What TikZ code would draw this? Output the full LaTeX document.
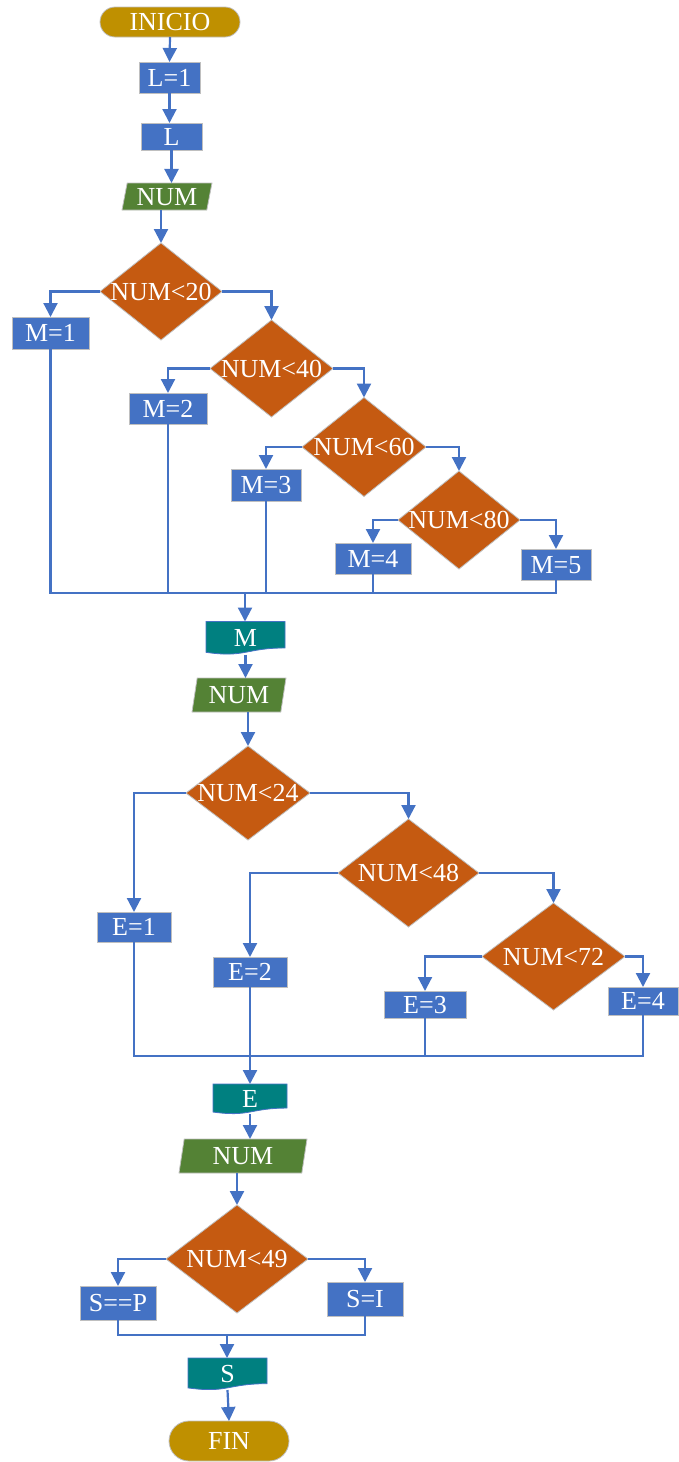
\documentclass[tikz,border=0pt]{standalone}
\usepackage{fontspec}
\setmainfont{Liberation Serif}
\usetikzlibrary{shapes.geometric, arrows.meta}

\definecolor{flowblue}{HTML}{4472C4}
\definecolor{decorange}{HTML}{C55A11}
\definecolor{iogreen}{HTML}{548235}
\definecolor{docteal}{HTML}{008080}
\definecolor{termgold}{HTML}{BF9000}
\definecolor{edgegray}{HTML}{BFBFBF}

% document symbol: box with a wavy lower edge, label node on top
\newcommand{\flowdoc}[6]{%
  \path[docshape]
    ({#2-#4/2},{#3-#5/2}) -- ({#2+#4/2},{#3-#5/2}) -- ({#2+#4/2},{#3-#5/2+0.802*#5})
    .. controls ({#2},{#3-#5/2+0.802*#5}) and ({#2},{#3-#5/2+1.107*#5}) ..
    ({#2-#4/2},{#3-#5/2+0.934*#5}) -- cycle;
  \node[doclabel, minimum width=#4pt, minimum height=#5pt] (#1) at (#2,#3) {#6};
}

\begin{document}
\begin{tikzpicture}[x=1pt, y=-1pt,
  base/.style={inner sep=0pt, outer sep=0pt, text=white,
    font=\fontsize{26}{29}\selectfont, text height=17pt, text depth=0pt},
  proc/.style={base, rectangle, fill=flowblue, draw=edgegray, line width=0.8pt},
  term/.style={base, rectangle, fill=termgold, draw=edgegray, line width=0.8pt},
  decision/.style={base, diamond, fill=decorange, draw=edgegray, line width=0.8pt},
  io/.style={base, trapezium, trapezium left angle=73, trapezium right angle=107,
    trapezium stretches body, fill=iogreen, draw=edgegray, line width=0.8pt},
  docshape/.style={fill=docteal, draw=flowblue, line width=0.8pt},
  doclabel/.style={base, rectangle},
  conn/.style={draw=flowblue, line width=2.2pt},
  arr/.style={conn, -{Triangle[length=14pt,width=14pt]}},
]
\useasboundingbox (0,0) rectangle (678,1462);

% ---- start and first reading ----
\node[term, minimum width=140pt, minimum height=30pt, rounded corners=15pt] (ini) at (170,22) {INICIO};
\node[proc, minimum width=61pt, minimum height=31pt] (l1) at (169.5,77.5) {L=1};
\node[proc, minimum width=61pt, minimum height=27pt] (lrd) at (171.5,136.5) {L};
\node[io, minimum width=90pt, minimum height=27pt] (num1) at (167,196.5) {\makebox[0pt]{NUM}};

% ---- M decisions ----
\node[decision, minimum width=122pt, minimum height=97pt] (d20) at (161,291.5) {\makebox[0pt]{NUM<20}};
\node[proc, minimum width=77pt, minimum height=32pt] (m1) at (50.5,333) {M=1};
\node[decision, minimum width=123pt, minimum height=97pt] (d40) at (271.5,368.5) {\makebox[0pt]{NUM<40}};
\node[proc, minimum width=78pt, minimum height=31pt] (m2) at (168,408.5) {M=2};
\node[decision, minimum width=124pt, minimum height=99pt] (d60) at (364,447) {\makebox[0pt]{NUM<60}};
\node[proc, minimum width=70pt, minimum height=32pt] (m3) at (266,485) {M=3};
\node[decision, minimum width=122pt, minimum height=98pt] (d80) at (459,520) {\makebox[0pt]{NUM<80}};
\node[proc, minimum width=76pt, minimum height=31pt] (m4) at (373,558.5) {M=4};
\node[proc, minimum width=70pt, minimum height=31pt] (m5) at (556,564.5) {M=5};
\coordinate (jm) at (245,593);

\flowdoc{mdoc}{245.5}{638}{79}{33}{M}
\node[io, minimum width=94pt, minimum height=34pt] (num2) at (239,695) {\makebox[0pt]{NUM}};

% ---- E decisions ----
\node[decision, minimum width=124pt, minimum height=94pt] (d24) at (248,793) {\makebox[0pt]{NUM<24}};
\node[proc, minimum width=74pt, minimum height=30pt] (e1) at (134,927) {E=1};
\node[decision, minimum width=141pt, minimum height=108pt] (d48) at (408.5,873) {\makebox[0pt]{NUM<48}};
\node[proc, minimum width=74pt, minimum height=30pt] (e2) at (250,972) {E=2};
\node[decision, minimum width=143pt, minimum height=107pt] (d72) at (553.5,956.5) {\makebox[0pt]{NUM<72}};
\node[proc, minimum width=82pt, minimum height=27pt] (e3) at (425,1004.5) {E=3};
\node[proc, minimum width=70pt, minimum height=28pt] (e4) at (643,1001) {E=4};
\coordinate (je) at (250,1056);

\flowdoc{edoc}{250}{1099}{74}{30}{E}
\node[io, minimum width=128pt, minimum height=34pt] (num3) at (243,1156) {\makebox[0pt]{NUM}};

% ---- S decision and end ----
\node[decision, minimum width=142pt, minimum height=108pt] (d49) at (237,1259) {\makebox[0pt]{NUM<49}};
\node[proc, minimum width=76pt, minimum height=34pt] (sp) at (118,1303) {S==P};
\node[proc, minimum width=76pt, minimum height=34pt] (si) at (365,1299) {S=I};
\coordinate (js) at (227,1335);

\flowdoc{sdoc}{227.5}{1374}{79}{32}{S}
\node[term, minimum width=120pt, minimum height=40pt, rounded corners=20pt] (fin) at (229,1441) {FIN};

% ---- connectors ----
\draw[arr] (ini.south) -- (l1.north);
\draw[arr] (l1.south) -- (lrd.north -| l1.south);
\draw[arr] (lrd.south) -- (lrd.south |- num1.north);
\draw[arr] (num1.south -| d20.north) -- (d20.north);

\draw[arr] (d20.west) -| (m1.north);
\draw[arr] (d20.east) -| (d40.north);
\draw[arr] (d40.west) -| (m2.north);
\draw[arr] (d40.east) -| (d60.north);
\draw[arr] (d60.west) -| (m3.north);
\draw[arr] (d60.east) -| (d80.north);
\draw[arr] (d80.west) -| (m4.north);
\draw[arr] (d80.east) -| (m5.north);

\draw[conn] (m1.south) |- (m5.south |- jm) -- (m5.south);
\foreach \n in {m2,m3,m4} \draw[conn] (\n.south) -- (\n.south |- jm);
\draw[arr] (jm) -- (jm |- mdoc.north);

\draw[arr] (mdoc.south) -- (mdoc.south |- num2.north);
\draw[arr] (num2.south -| d24.north) -- (d24.north);

\draw[arr] (d24.west) -| (e1.north);
\draw[arr] (d24.east) -| (d48.north);
\draw[arr] (d48.west) -| (e2.north);
\draw[arr] (d48.east) -| (d72.north);
\draw[arr] (d72.west) -| (e3.north);
\draw[arr] (d72.east) -| (e4.north);

\draw[conn] (e1.south) |- (e4.south |- je) -- (e4.south);
\foreach \n in {e2,e3} \draw[conn] (\n.south) -- (\n.south |- je);
\draw[arr] (je) -- (je |- edoc.north);

\draw[arr] (edoc.south) -- (edoc.south |- num3.north);
\draw[arr] (num3.south -| d49.north) -- (d49.north);

\draw[arr] (d49.west) -| (sp.north);
\draw[arr] (d49.east) -| (si.north);
\draw[conn] (sp.south) |- (si.south |- js) -- (si.south);
\draw[arr] (js) -- (js |- sdoc.north);
\draw[arr] (sdoc.south) -- (fin.north);
\end{tikzpicture}
\end{document}
